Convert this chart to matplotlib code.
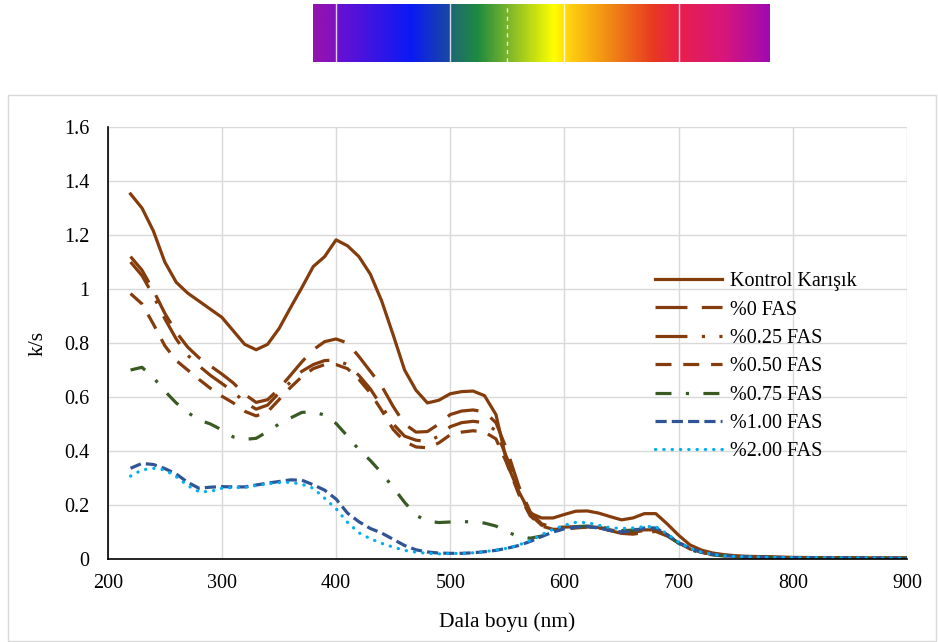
import numpy as np
import matplotlib
matplotlib.use("Agg")
import matplotlib.pyplot as plt
from matplotlib.colors import LinearSegmentedColormap
from matplotlib.patches import Rectangle
from matplotlib.ticker import FuncFormatter

plt.rcParams["font.family"] = ["Liberation Serif", "DejaVu Serif"]

# ------------------------------------------------------------
# DATA  (wavelength in nm, k/s values)
# ------------------------------------------------------------
wavelength = [220, 230, 240, 250, 260, 270, 280, 290, 300, 310,
              320, 330, 340, 350, 360, 370, 380, 390, 400, 410,
              420, 430, 440, 450, 460, 470, 480, 490, 500, 510,
              520, 530, 540, 550, 560, 570, 580, 590, 600, 610,
              620, 630, 640, 650, 660, 670, 680, 690, 700, 710,
              720, 730, 740, 750, 760, 780, 800, 850, 900]

kontrol = [1.352, 1.30, 1.215, 1.10, 1.025, 0.985, 0.955, 0.925, 0.895, 0.845,
           0.795, 0.775, 0.795, 0.853, 0.93, 1.005, 1.083, 1.12, 1.182, 1.16,
           1.12, 1.055, 0.955, 0.83, 0.70, 0.625, 0.578, 0.588, 0.612, 0.62,
           0.622, 0.605, 0.535, 0.35, 0.25, 0.17, 0.152, 0.152, 0.165, 0.177,
           0.178, 0.17, 0.157, 0.145, 0.152, 0.168, 0.168, 0.13, 0.088, 0.052,
           0.033, 0.022, 0.016, 0.012, 0.010, 0.008, 0.006, 0.004, 0.003]

fas_0 = [1.12, 1.07, 0.995, 0.91, 0.84, 0.785, 0.745, 0.715, 0.685, 0.652,
         0.61, 0.58, 0.59, 0.63, 0.68, 0.73, 0.775, 0.805, 0.815, 0.80,
         0.75, 0.695, 0.64, 0.565, 0.50, 0.47, 0.472, 0.50, 0.535, 0.548,
         0.552, 0.545, 0.505, 0.40, 0.27, 0.175, 0.13, 0.118, 0.118, 0.12,
         0.12, 0.115, 0.105, 0.095, 0.092, 0.098, 0.102, 0.085, 0.06, 0.038,
         0.025, 0.018, 0.013, 0.010, 0.008, 0.006, 0.005, 0.004, 0.003]

fas_025 = [1.10, 1.05, 0.975, 0.89, 0.815, 0.755, 0.715, 0.68, 0.65, 0.62,
           0.58, 0.555, 0.57, 0.615, 0.655, 0.695, 0.72, 0.735, 0.737, 0.72,
           0.68, 0.63, 0.565, 0.50, 0.455, 0.44, 0.435, 0.455, 0.49, 0.505,
           0.51, 0.505, 0.475, 0.37, 0.25, 0.165, 0.125, 0.113, 0.113, 0.118,
           0.12, 0.117, 0.11, 0.103, 0.103, 0.108, 0.108, 0.09, 0.062, 0.038,
           0.025, 0.018, 0.013, 0.010, 0.008, 0.006, 0.005, 0.004, 0.003]

fas_050 = [0.983, 0.945, 0.87, 0.79, 0.735, 0.70, 0.665, 0.632, 0.603, 0.578,
           0.547, 0.53, 0.545, 0.59, 0.635, 0.675, 0.705, 0.72, 0.72, 0.705,
           0.665, 0.615, 0.55, 0.48, 0.435, 0.415, 0.412, 0.43, 0.46, 0.47,
           0.475, 0.47, 0.445, 0.35, 0.24, 0.16, 0.122, 0.11, 0.11, 0.115,
           0.118, 0.115, 0.108, 0.10, 0.10, 0.105, 0.105, 0.088, 0.06, 0.037,
           0.024, 0.017, 0.012, 0.010, 0.008, 0.006, 0.005, 0.004, 0.003]

fas_075 = [0.70, 0.71, 0.672, 0.622, 0.578, 0.543, 0.515, 0.50, 0.478, 0.452,
           0.443, 0.447, 0.472, 0.50, 0.522, 0.543, 0.545, 0.533, 0.502, 0.455,
           0.405, 0.365, 0.318, 0.265, 0.21, 0.162, 0.14, 0.135, 0.137, 0.138,
           0.138, 0.133, 0.122, 0.10, 0.083, 0.077, 0.085, 0.10, 0.113, 0.12,
           0.122, 0.12, 0.112, 0.105, 0.107, 0.115, 0.112, 0.088, 0.058, 0.035,
           0.022, 0.015, 0.011, 0.009, 0.008, 0.006, 0.005, 0.004, 0.003]

fas_100 = [0.336, 0.354, 0.35, 0.335, 0.315, 0.284, 0.262, 0.266, 0.268, 0.267,
           0.267, 0.274, 0.281, 0.287, 0.293, 0.292, 0.275, 0.255, 0.222, 0.17,
           0.138, 0.113, 0.096, 0.073, 0.05, 0.034, 0.026, 0.022, 0.021, 0.021,
           0.023, 0.027, 0.032, 0.04, 0.05, 0.065, 0.083, 0.10, 0.112, 0.118,
           0.12, 0.115, 0.106, 0.10, 0.105, 0.115, 0.115, 0.09, 0.06, 0.04,
           0.025, 0.017, 0.012, 0.009, 0.008, 0.006, 0.005, 0.004, 0.003]

fas_200 = [0.307, 0.33, 0.336, 0.33, 0.305, 0.272, 0.249, 0.25, 0.262, 0.265,
           0.265, 0.272, 0.278, 0.283, 0.284, 0.277, 0.262, 0.225, 0.186, 0.136,
           0.097, 0.075, 0.058, 0.044, 0.032, 0.025, 0.021, 0.019, 0.02, 0.021,
           0.023, 0.027, 0.033, 0.04, 0.052, 0.068, 0.09, 0.11, 0.125, 0.136,
           0.135, 0.125, 0.116, 0.113, 0.115, 0.12, 0.12, 0.093, 0.062, 0.04,
           0.025, 0.017, 0.012, 0.009, 0.008, 0.006, 0.005, 0.004, 0.003]

labels = ["Kontrol Karışık", "%0 FAS", "%0.25 FAS", "%0.50 FAS",
          "%0.75 FAS", "%1.00 FAS", "%2.00 FAS"]

# visible spectrum band: wavelength stops and colours
spectrum_nm = [380, 400, 401, 465, 499, 501, 524, 550, 591, 605, 640, 678, 700, 740, 780]
spectrum_colors = ["#9412B0", "#8012C0", "#6A10D2", "#0A1AF5", "#1A48A0", "#1E6A72",
                   "#1E8A40", "#78B42C", "#FFFF00", "#FFD010", "#F08A14", "#E83A20",
                   "#E8204A", "#D8167A", "#A00AB0"]

# ------------------------------------------------------------
# FIGURE
# ------------------------------------------------------------
W, H = 938, 642
fig = plt.figure(figsize=(W / 100, H / 100), dpi=100)

# light outer chart border
fig.patches.append(Rectangle((8 / W, 1 / H), 928 / W, 546 / H,
                             transform=fig.transFigure, fill=False,
                             edgecolor="#D9D9D9", linewidth=1.0))

ax_left, ax_right = 107.7 / W, 907 / W
ax = fig.add_axes([ax_left, 1 - 559 / H, ax_right - ax_left, (559 - 127) / H])

brown = "#843C0C"
styles = [
    dict(color=brown, linestyle="-"),
    dict(color=brown, linestyle=(0, (10, 4.5))),
    dict(color=brown, linestyle=(0, (10, 4.5, 1, 4.5))),
    dict(color=brown, linestyle=(0, (5, 3.7))),
    dict(color="#3A5A24", linestyle=(0, (5, 4.5, 1, 4.5))),
    dict(color="#2F5597", linestyle=(0, (3.5, 1.6))),
    dict(color="#00B0F0", linestyle=(0, (0.1, 2.5)), dash_capstyle="round"),
]
series = [kontrol, fas_0, fas_025, fas_050, fas_075, fas_100, fas_200]

for vals, lab, st in zip(series, labels, styles):
    ax.plot(wavelength, vals, label=lab, linewidth=2.3, **st)

ax.set_xlim(200, 900)
ax.set_ylim(0, 1.6)
ax.set_xticks(np.arange(200, 901, 100))
ax.set_yticks(np.arange(0, 1.61, 0.2))
ax.yaxis.set_major_formatter(FuncFormatter(lambda v, p: "%g" % round(v, 1)))
ax.grid(True, color="#D9D9D9", linewidth=1.0)
ax.set_axisbelow(True)
for side in ["top", "right"]:
    ax.spines[side].set_visible(False)
ax.spines["left"].set_color("black")
ax.spines["bottom"].set_color("black")
ax.spines["left"].set_linewidth(1.2)
ax.spines["bottom"].set_linewidth(1.2)
ax.tick_params(axis="both", length=0, labelsize=14.5)
ax.tick_params(axis="y", pad=13)
ax.tick_params(axis="x", pad=11)
ax.set_xlabel("Dala boyu (nm)", fontsize=15.5, labelpad=14)
ax.set_ylabel("k/s", fontsize=15.5, labelpad=12)

leg = ax.legend(loc="upper left", bbox_to_anchor=(647 / W, 1 - 264 / H),
                bbox_transform=fig.transFigure, frameon=False, fontsize=14.5,
                handlelength=3.3, handletextpad=0.42, labelspacing=0.46,
                borderaxespad=0)

# spectrum strip above the plot, aligned to the wavelength axis
ax_spec = fig.add_axes([ax_left, 1 - 62 / H, ax_right - ax_left, 58 / H])
span = spectrum_nm[-1] - spectrum_nm[0]
cmap = LinearSegmentedColormap.from_list(
    "spectrum", [((nm - spectrum_nm[0]) / span, c) for nm, c in zip(spectrum_nm, spectrum_colors)])
grad = np.linspace(0, 1, 800).reshape(1, -1)
ax_spec.imshow(grad, cmap=cmap, aspect="auto",
               extent=[spectrum_nm[0], spectrum_nm[-1], 0, 1])
for nm in [400, 500, 600, 700]:
    ax_spec.axvline(nm, color="white", linewidth=1.0, alpha=0.8)
ax_spec.axvline(550, color="white", linewidth=1.0, linestyle=(0, (3, 3)), alpha=0.8)
ax_spec.set_xlim(200, 900)
ax_spec.set_ylim(0, 1)
ax_spec.axis("off")

fig.savefig("out.png", dpi=100)
